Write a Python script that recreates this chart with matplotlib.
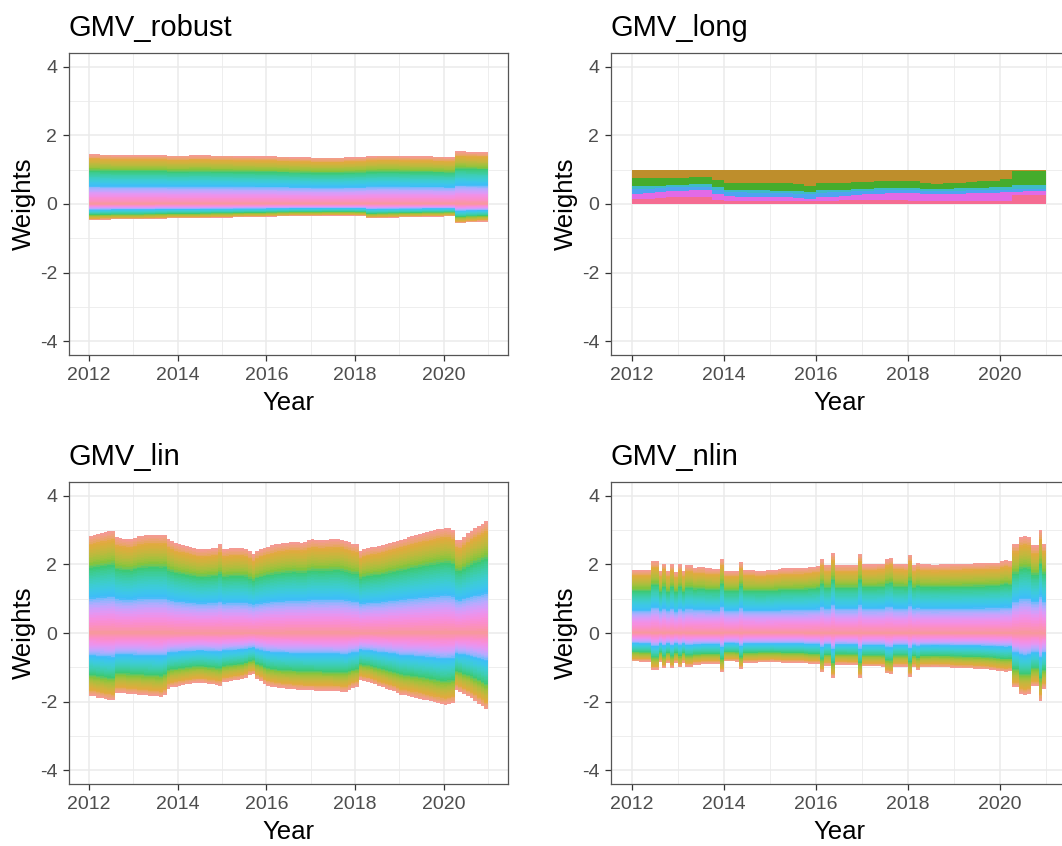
"""Stacked portfolio weights of the four GMV strategies, 2012-2021."""

import numpy as np
import matplotlib.pyplot as plt

plt.rcParams['font.family'] = ['Liberation Sans', 'DejaVu Sans']
plt.rcParams['axes.unicode_minus'] = False

# ---------------------------------------------------------------------------
# Data
# ---------------------------------------------------------------------------
quarters = 2012 + np.arange(37) / 4     # 2012.00 ... 2021.00
months = 2012 + np.arange(109) / 12     # 2012-01 ... 2021-01

# GMV_robust: sum of positive / negative weights per quarter
robust_pos = [1.45, 1.44, 1.43, 1.43, 1.43, 1.43, 1.43, 1.41, 1.41, 1.42,
              1.42, 1.41, 1.41, 1.40, 1.40, 1.39, 1.39, 1.38, 1.37, 1.36,
              1.35, 1.35, 1.35, 1.36, 1.37, 1.40, 1.41, 1.41, 1.40, 1.39,
              1.39, 1.38, 1.37, 1.54, 1.52, 1.51, 1.50]
robust_neg = [-0.47, -0.46, -0.45, -0.45, -0.45, -0.44, -0.43, -0.42, -0.42, -0.42,
              -0.41, -0.40, -0.40, -0.39, -0.38, -0.38, -0.37, -0.36, -0.35, -0.35,
              -0.35, -0.34, -0.34, -0.34, -0.35, -0.42, -0.41, -0.40, -0.39, -0.38,
              -0.37, -0.37, -0.36, -0.56, -0.53, -0.51, -0.50]

# GMV_long: cumulative upper edge of each asset group per quarter (bottom -> top)
long_pink = [.15, .16, .18, .19, .20, .20, .19, .13, .10, .10, .10, .10, .10,
             .10, .09, .09, .10, .10, .11, .12, .12, .12, .12, .11, .10, .10,
             .10, .10, .10, .10, .10, .10, .10, .25, .25, .25, .25]
long_magenta = [.30, .31, .35, .38, .38, .40, .40, .30, .22, .21, .20, .20, .20,
                .19, .17, .15, .20, .21, .23, .26, .28, .30, .31, .32, .32, .30,
                .28, .29, .30, .31, .32, .33, .35, .36, .37, .38, .38]
long_blue = [.45, .45, .47, .49, .50, .50, .50, .42, .35, .34, .33, .33, .32,
             .31, .30, .28, .33, .34, .35, .37, .38, .40, .41, .41, .40, .38,
             .37, .38, .39, .40, .41, .42, .42, .45, .45, .45, .45]
long_cyan = [.52, .52, .53, .55, .56, .57, .57, .50, .42, .41, .40, .40, .39,
             .38, .37, .35, .40, .41, .42, .44, .45, .47, .48, .48, .48, .45,
             .44, .45, .46, .47, .48, .49, .50, .55, .55, .55, .55]
long_green = [.75, .75, .76, .77, .77, .78, .78, .70, .62, .61, .60, .60, .62,
              .62, .58, .52, .60, .60, .62, .63, .64, .66, .67, .68, .66, .60,
              .58, .60, .62, .64, .66, .68, .72, .96, .95, .95, .95]
long_olive = [1.0] * 37
long_groups = [long_pink, long_magenta, long_blue, long_cyan, long_green, long_olive]
long_colors = ['#F56C92', '#E26AE6', '#4FA3F2', '#3EBBC8', '#45AC2C', '#BE8E2C']

# GMV_lin: sum of positive / negative weights per month
lin_pos = [2.84, 2.87, 2.89, 2.91, 2.93, 2.96, 2.98, 2.79, 2.77, 2.75, 2.74, 2.73,
           2.78, 2.83, 2.84, 2.86, 2.87, 2.87, 2.87, 2.86, 2.87, 2.73, 2.68, 2.62,
           2.58, 2.56, 2.53, 2.50, 2.48, 2.45, 2.44, 2.45, 2.46, 2.47, 2.48, 2.58,
           2.44, 2.46, 2.47, 2.48, 2.48, 2.47, 2.46, 2.38, 2.29, 2.40, 2.45, 2.49,
           2.52, 2.55, 2.58, 2.60, 2.62, 2.63, 2.64, 2.65, 2.64, 2.63, 2.64, 2.70,
           2.73, 2.72, 2.71, 2.71, 2.72, 2.73, 2.74, 2.74, 2.72, 2.68, 2.64, 2.60,
           2.58, 2.38, 2.45, 2.48, 2.50, 2.52, 2.53, 2.56, 2.60, 2.63, 2.66, 2.69,
           2.72, 2.75, 2.79, 2.82, 2.85, 2.88, 2.91, 2.94, 2.97, 2.99, 3.02, 3.04,
           3.06, 3.05, 3.00, 2.72, 2.70, 2.80, 2.90, 2.98, 3.05, 3.11, 3.18, 3.25,
           3.30]
lin_neg = [-1.83, -1.85, -1.88, -1.90, -1.93, -1.95, -1.96, -1.74, -1.75, -1.76, -1.77, -1.78,
           -1.79, -1.80, -1.81, -1.82, -1.83, -1.84, -1.85, -1.86, -1.80, -1.62, -1.58, -1.56,
           -1.54, -1.52, -1.50, -1.48, -1.46, -1.45, -1.45, -1.47, -1.49, -1.50, -1.52, -1.54,
           -1.43, -1.42, -1.40, -1.38, -1.36, -1.35, -1.30, -1.22, -1.20, -1.35, -1.40, -1.48,
           -1.54, -1.56, -1.58, -1.60, -1.61, -1.62, -1.63, -1.64, -1.65, -1.66, -1.67, -1.67,
           -1.67, -1.68, -1.68, -1.69, -1.69, -1.69, -1.70, -1.70, -1.71, -1.72, -1.65, -1.60,
           -1.57, -1.36, -1.40, -1.42, -1.45, -1.50, -1.55, -1.58, -1.62, -1.66, -1.70, -1.75,
           -1.80, -1.82, -1.84, -1.86, -1.89, -1.92, -1.94, -1.96, -1.99, -2.02, -2.05, -2.08,
           -2.09, -2.07, -2.04, -1.65, -1.72, -1.78, -1.84, -1.90, -1.98, -2.06, -2.14, -2.22,
           -2.33]

# GMV_nlin: sum of positive / negative weights per month
nlin_pos = [1.85, 1.85, 1.85, 1.85, 1.85, 2.10, 2.10, 1.80, 2.02, 1.80, 2.00, 1.78,
            2.00, 1.80, 1.97, 1.97, 1.90, 1.92, 1.92, 1.88, 1.88, 1.87, 1.87, 2.15,
            1.82, 1.82, 1.82, 1.82, 2.07, 1.84, 1.84, 1.84, 1.82, 1.82, 1.82, 1.84,
            1.83, 1.85, 1.86, 1.88, 1.88, 1.88, 1.89, 1.89, 1.89, 1.90, 1.92, 1.93,
            1.95, 2.15, 1.98, 1.98, 2.32, 1.98, 1.98, 1.98, 1.98, 1.98, 1.98, 2.30,
            2.00, 2.00, 2.00, 2.00, 2.02, 2.02, 2.15, 2.18, 2.02, 2.02, 2.02, 2.00,
            2.28, 1.98, 2.05, 2.00, 2.00, 2.00, 1.99, 1.99, 2.00, 2.00, 2.00, 2.01,
            2.01, 2.01, 2.02, 2.02, 2.02, 2.03, 2.03, 2.03, 2.04, 2.05, 2.05, 2.05,
            2.10, 2.12, 2.10, 2.60, 2.60, 2.80, 2.82, 2.80, 2.55, 2.55, 3.00, 2.60,
            2.60]
nlin_neg = [-0.83, -0.83, -0.84, -0.84, -0.84, -1.07, -1.07, -0.85, -1.02, -0.86, -1.02, -0.86,
            -1.00, -0.87, -0.98, -0.98, -0.92, -0.92, -0.90, -0.90, -0.90, -0.90, -0.90, -1.14,
            -0.83, -0.83, -0.83, -0.84, -1.05, -0.86, -0.86, -0.86, -0.86, -0.85, -0.85, -0.85,
            -0.84, -0.85, -0.85, -0.86, -0.86, -0.86, -0.86, -0.87, -0.87, -0.88, -0.90, -0.90,
            -0.90, -1.15, -0.95, -0.95, -1.30, -0.92, -0.92, -0.92, -0.93, -0.93, -0.93, -1.30,
            -0.97, -0.97, -0.97, -0.97, -0.97, -0.98, -1.18, -1.20, -0.98, -0.98, -0.98, -0.98,
            -1.27, -1.00, -1.08, -1.00, -1.00, -1.00, -0.99, -0.99, -1.00, -1.00, -1.00, -1.01,
            -1.02, -1.02, -1.03, -1.03, -1.03, -1.04, -1.04, -1.05, -1.06, -1.07, -1.08, -1.10,
            -1.12, -1.13, -1.12, -1.58, -1.58, -1.78, -1.80, -1.78, -1.55, -1.55, -1.98, -1.62,
            -1.62]

N_ASSETS = 60


def hcl_to_rgb(h, c=100.0, l=65.0, alpha=1.0):
    # polar LUV -> sRGB like R's hcl(), then blended onto white
    xn, yn, zn = 95.047, 100.0, 108.883
    den = xn + 15 * yn + 3 * zn
    un, vn = 4 * xn / den, 9 * yn / den
    u = c * np.cos(np.radians(h))
    v = c * np.sin(np.radians(h))
    y = yn * ((l + 16) / 116) ** 3
    up = u / (13 * l) + un
    vp = v / (13 * l) + vn
    x = y * 9 * up / (4 * vp)
    z = y * (12 - 3 * up - 20 * vp) / (4 * vp)
    m = np.array([[3.2406, -1.5372, -0.4986],
                  [-0.9689, 1.8758, 0.0415],
                  [0.0557, -0.2040, 1.0570]])
    lin = m @ (np.array([x, y, z]) / 100)
    rgb = np.where(lin <= 0.0031308, 12.92 * lin,
                   1.055 * np.abs(lin) ** (1 / 2.4) - 0.055)
    rgb = np.clip(rgb, 0, 1)
    return tuple(1 - alpha * (1 - rgb))


def draw_stack(ax, x, pos, neg, colors):
    # first asset is stacked outermost, last one next to zero (ggplot order)
    pos, neg = np.asarray(pos), np.asarray(neg)
    n = len(colors)
    for k in range(n):
        lo, hi = (n - k - 1) / n, (n - k) / n
        for total in (pos, neg):
            ax.fill_between(x, total * lo, total * hi, step='post',
                            facecolor=colors[k], lw=0, antialiased=False)


def style_axes(ax, title):
    ax.set_xlim(2011.55, 2021.45)
    ax.set_ylim(-4.4, 4.4)
    ax.set_xticks([2012, 2014, 2016, 2018, 2020])
    ax.set_xticks([2013, 2015, 2017, 2019, 2021], minor=True)
    ax.set_yticks([-4, -2, 0, 2, 4])
    ax.set_yticks([-3, -1, 1, 3], minor=True)
    ax.grid(True, which='major', color='#EBEBEB', lw=1.1)
    ax.grid(True, which='minor', color='#EBEBEB', lw=0.6)
    ax.set_axisbelow(True)
    ax.tick_params(which='major', direction='out', length=4.5, width=0.9,
                   color='#333333', labelcolor='#4D4D4D', labelsize=14, pad=4)
    ax.tick_params(which='minor', length=0)
    for sp in ax.spines.values():
        sp.set_color('#555555')
        sp.set_linewidth(0.9)
    ax.set_xlabel('Year', fontsize=18.5, labelpad=5)
    ax.set_ylabel('Weights', fontsize=18.5, labelpad=3)
    ax.set_title(title, loc='left', fontsize=21, pad=12)


fig = plt.figure(figsize=(10.62, 8.46), dpi=100)
W, H = 1062, 846
ax_rob = fig.add_axes([69 / W, 1 - 355 / H, 439 / W, 302 / H])
ax_long = fig.add_axes([611 / W, 1 - 355 / H, 456 / W, 302 / H])
ax_lin = fig.add_axes([69 / W, 1 - 784 / H, 439 / W, 302 / H])
ax_nlin = fig.add_axes([611 / W, 1 - 784 / H, 456 / W, 302 / H])

hues = np.linspace(15, 375, N_ASSETS + 1)[:-1]
asset_colors = [hcl_to_rgb(h, c=90, alpha=0.76) for h in hues]

draw_stack(ax_rob, quarters, robust_pos, robust_neg, asset_colors)
draw_stack(ax_lin, months, lin_pos, lin_neg, asset_colors)
draw_stack(ax_nlin, months, nlin_pos, nlin_neg, asset_colors)

# long-only: a few groups of assets carry almost all the weight
lower = np.zeros(len(quarters))
for tops, col in zip(long_groups, long_colors):
    tops = np.asarray(tops)
    ax_long.fill_between(quarters, lower, tops, step='post',
                         facecolor=col, lw=0, antialiased=False)
    lower = tops

for ax, name in [(ax_rob, 'GMV_robust'), (ax_long, 'GMV_long'),
                 (ax_lin, 'GMV_lin'), (ax_nlin, 'GMV_nlin')]:
    style_axes(ax, name)

fig.savefig('out.png', dpi=100)
